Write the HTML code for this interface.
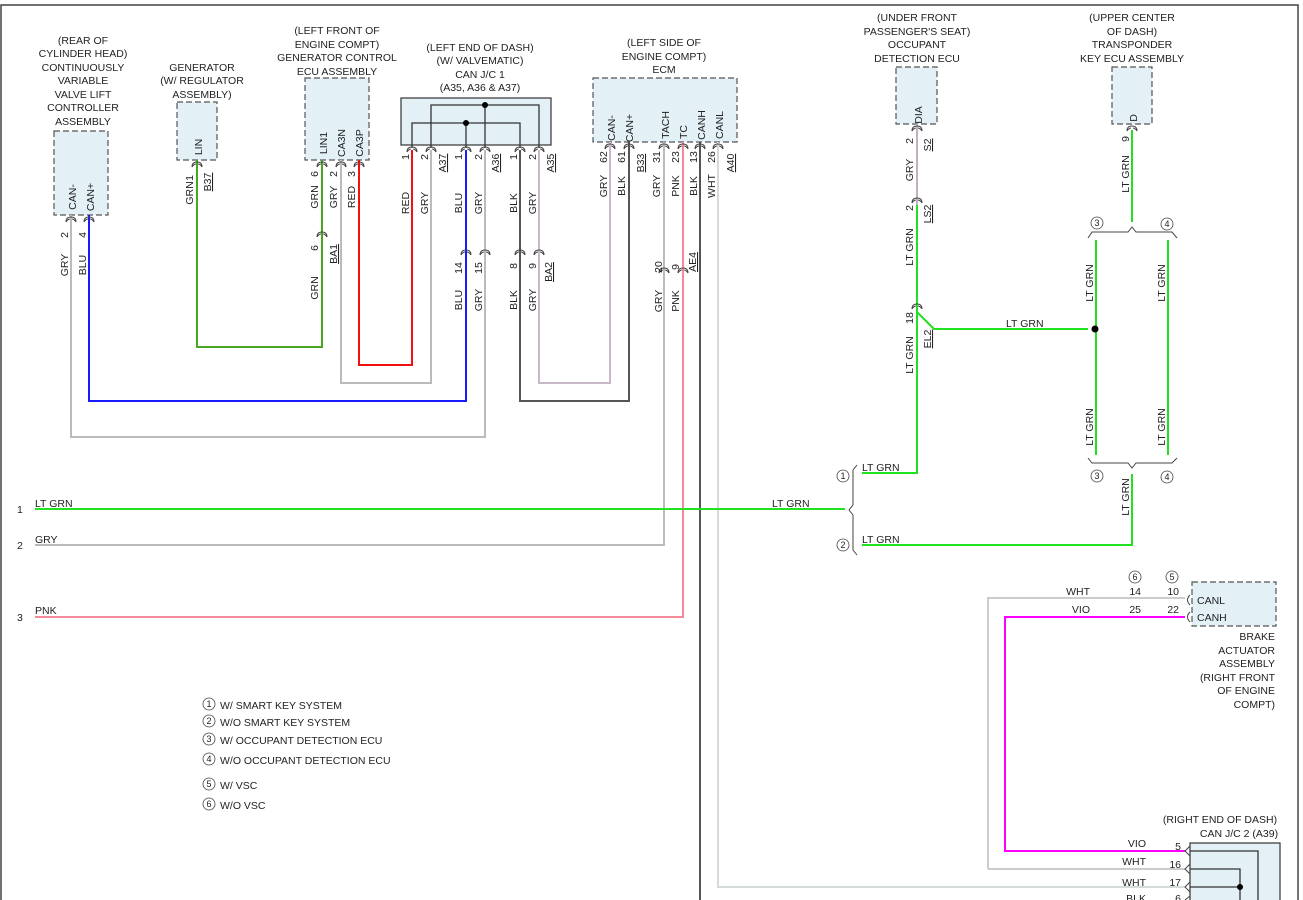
<!DOCTYPE html>
<html><head><meta charset="utf-8"><style>
html,body{margin:0;padding:0;background:#fff;}
svg{display:block;font-family:"Liberation Sans",sans-serif;font-size:10.5px;fill:#222;}
.b{fill:#e3f1f7;stroke:#555;stroke-width:1.2;stroke-dasharray:6,3;}
.w{fill:none;stroke-width:2;}
.c{fill:none;stroke:#444;stroke-width:1;}
</style></head><body>
<svg width="1303" height="900" viewBox="0 0 1303 900" xmlns="http://www.w3.org/2000/svg">
<defs>
<g id="cn"><path d="M-5,5 Q-5,0 0,0 Q5,0 5,5 M-5,5 Q-3,2 -1,2 M1,2 Q3,2 5,5" fill="none" stroke="#444" stroke-width="1"/></g>
</defs>
<rect x="1" y="5" width="1297" height="900" fill="none" stroke="#444" stroke-width="1.5"/>

<!-- Boxes -->
<rect class="b" x="54" y="131" width="54" height="84"/>
<rect class="b" x="177" y="102" width="40" height="58"/>
<rect class="b" x="305" y="78" width="64" height="82"/>
<rect x="401" y="98" width="150" height="47" fill="#e3f1f7" stroke="#333" stroke-width="1.2"/>
<rect class="b" x="593" y="78" width="144" height="64"/>
<rect class="b" x="896" y="67" width="41" height="57"/>
<rect class="b" x="1112" y="67" width="40" height="57"/>
<rect class="b" x="1192" y="582" width="84" height="44"/>
<rect x="1190" y="843" width="90" height="70" fill="#e3f1f7" stroke="#333" stroke-width="1.2"/>

<!-- J/C1 internal -->
<g fill="none" stroke="#333" stroke-width="1.3">
<path d="M412,148 V123 H520 V148 M466,123 V148 M431,148 V105 H539 V148 M485,105 V148"/>
<path d="M1190,851 H1258 V900 M1190,869 H1240 V900 M1190,887 H1240"/>
</g>
<circle cx="466" cy="123" r="3" fill="#000"/><circle cx="485" cy="105" r="3" fill="#000"/>
<circle cx="1240" cy="887" r="3" fill="#000"/>

<!-- wires -->
<path class="w" stroke="#bbb" d="M71,215 V437 H485 V150"/>
<path class="w" stroke="#1a1aff" d="M89,215 V401 H466 V150"/>
<path class="w" stroke="#4aa520" d="M197,160 V347 H322 V160"/>
<path class="w" stroke="#bbb" d="M341,160 V383 H431 V150"/>
<path class="w" stroke="#f21010" d="M359,160 V365 H412 V150"/>
<path class="w" stroke="#555" d="M520,150 V401 H629 V142"/>
<path class="w" stroke="#c9b8c9" d="M539,150 V383 H610 V142"/>
<path class="w" stroke="#bbb" d="M664,142 V545 H35"/>
<path class="w" stroke="#f58a9a" d="M683,142 V617 H35"/>
<path class="w" stroke="#555" d="M700,142 V900"/>
<path class="w" stroke="#d5dcd5" d="M718,142 V887 H1185"/>
<path class="w" stroke="#22e022" d="M35,509 H845"/>
<path class="w" stroke="#c0b0c0" d="M917,124 V205"/>
<path class="w" stroke="#22e022" d="M917,205 V473 H862 M917,312 L934,329 H1088"/>
<path class="w" stroke="#22e022" d="M1132,130 V222 M1096,240 V455 M1168,240 V455 M1132,474 V545 H862"/>
<path class="w" stroke="#ccc" d="M988,869 V598 H1185 M1185,869 H988"/>
<path class="w" stroke="#f0f" d="M1185,617 H1005 V851 H1185"/>
<circle cx="1095" cy="329" r="3.5" fill="#000"/>

<!-- brackets -->
<g class="c">
<path d="M1088,238 L1092,232 H1128 L1132,227 L1136,232 H1172 L1177,238"/>
<path d="M1088,458 L1092,463 H1128 L1132,468 L1136,463 H1172 L1177,458"/>
<path d="M857,465 L853,470 V505 L849,510 L853,515 V550 L857,555"/>
</g>

<!-- connector marks -->
<g>
<use href="#cn" x="71" y="217"/><use href="#cn" x="89" y="217"/><use href="#cn" x="197" y="162"/>
<use href="#cn" x="322" y="162"/><use href="#cn" x="341" y="162"/><use href="#cn" x="359" y="162"/>
<use href="#cn" x="322" y="232"/>
<use href="#cn" x="412" y="147"/><use href="#cn" x="431" y="147"/><use href="#cn" x="466" y="147"/><use href="#cn" x="485" y="147"/><use href="#cn" x="520" y="147"/><use href="#cn" x="539" y="147"/>
<use href="#cn" x="466" y="250"/><use href="#cn" x="485" y="250"/><use href="#cn" x="520" y="250"/><use href="#cn" x="539" y="250"/>
<use href="#cn" x="610" y="144"/><use href="#cn" x="629" y="144"/><use href="#cn" x="664" y="144"/><use href="#cn" x="683" y="144"/><use href="#cn" x="700" y="144"/><use href="#cn" x="718" y="144"/>
<use href="#cn" x="664" y="268"/><use href="#cn" x="683" y="268"/>
<use href="#cn" x="917" y="126"/><use href="#cn" x="917" y="198"/><use href="#cn" x="917" y="304"/><use href="#cn" x="1132" y="126"/>
</g>
<path class="c" d="M1190,595 Q1185,600 1190,605 M1190,612 Q1185,617 1190,622 M1190,846 L1185,851 L1190,856 M1190,864 L1185,869 L1190,874 M1190,882 L1185,887 L1190,892 M1190,896 L1185,900"/>

<!-- titles -->
<g text-anchor="middle">
<text x="83" y="44">(REAR OF</text><text x="83" y="57">CYLINDER HEAD)</text><text x="83" y="71">CONTINUOUSLY</text><text x="83" y="84">VARIABLE</text><text x="83" y="98">VALVE LIFT</text><text x="83" y="111">CONTROLLER</text><text x="83" y="125">ASSEMBLY</text>
<text x="202" y="71">GENERATOR</text><text x="202" y="84">(W/ REGULATOR</text><text x="202" y="98">ASSEMBLY)</text>
<text x="337" y="34">(LEFT FRONT OF</text><text x="337" y="48">ENGINE COMPT)</text><text x="337" y="61">GENERATOR CONTROL</text><text x="337" y="75">ECU ASSEMBLY</text>
<text x="480" y="51">(LEFT END OF DASH)</text><text x="480" y="64">(W/ VALVEMATIC)</text><text x="480" y="78">CAN J/C 1</text><text x="480" y="91">(A35, A36 &amp; A37)</text>
<text x="664" y="46">(LEFT SIDE OF</text><text x="664" y="60">ENGINE COMPT)</text><text x="664" y="73">ECM</text>
<text x="917" y="21">(UNDER FRONT</text><text x="917" y="35">PASSENGER'S SEAT)</text><text x="917" y="48">OCCUPANT</text><text x="917" y="62">DETECTION ECU</text>
<text x="1132" y="21">(UPPER CENTER</text><text x="1132" y="35">OF DASH)</text><text x="1132" y="48">TRANSPONDER</text><text x="1132" y="62">KEY ECU ASSEMBLY</text>
<text x="1220" y="823">(RIGHT END OF DASH)</text><text x="1239" y="837">CAN J/C 2 (A39)</text>
</g>
<g text-anchor="end">
<text x="1275" y="640">BRAKE</text><text x="1275" y="654">ACTUATOR</text><text x="1275" y="667">ASSEMBLY</text><text x="1275" y="681">(RIGHT FRONT</text><text x="1275" y="694">OF ENGINE</text><text x="1275" y="708">COMPT)</text>
<text x="1179" y="595">10</text><text x="1179" y="613">22</text><text x="1141" y="595">14</text><text x="1141" y="613">25</text>
<text x="1090" y="595">WHT</text><text x="1090" y="613">VIO</text>
<text x="1146" y="847">VIO</text><text x="1146" y="865">WHT</text><text x="1146" y="886">WHT</text><text x="1146" y="902">BLK</text>
<text x="1181" y="850">5</text><text x="1181" y="868">16</text><text x="1181" y="886">17</text><text x="1181" y="902">6</text>
</g>
<text x="1197" y="604">CANL</text><text x="1197" y="621">CANH</text>

<!-- horizontal labels -->
<text x="35" y="507">LT GRN</text><text x="772" y="507">LT GRN</text><text x="35" y="543">GRY</text><text x="35" y="614">PNK</text>
<text x="862" y="471">LT GRN</text><text x="862" y="543">LT GRN</text><text x="1006" y="327">LT GRN</text>
<text x="17" y="513">1</text><text x="17" y="549">2</text><text x="17" y="621">3</text>

<!-- circled numbers -->
<g fill="none" stroke="#444" stroke-width="0.8">
<circle cx="843" cy="476" r="6"/><circle cx="843" cy="545" r="6"/><circle cx="1097" cy="223" r="6"/><circle cx="1167" cy="224" r="6"/>
<circle cx="1097" cy="476" r="6"/><circle cx="1167" cy="477" r="6"/><circle cx="1135" cy="577" r="6"/><circle cx="1172" cy="577" r="6"/>
<circle cx="209" cy="704" r="6"/><circle cx="209" cy="721" r="6"/><circle cx="209" cy="739" r="6"/><circle cx="209" cy="759" r="6"/><circle cx="209" cy="784" r="6"/><circle cx="209" cy="804" r="6"/>
</g>
<g text-anchor="middle" font-size="9">
<text x="843" y="479">1</text><text x="843" y="548">2</text><text x="1097" y="226">3</text><text x="1167" y="227">4</text>
<text x="1097" y="479">3</text><text x="1167" y="480">4</text><text x="1135" y="580">6</text><text x="1172" y="580">5</text>
<text x="209" y="707">1</text><text x="209" y="724">2</text><text x="209" y="742">3</text><text x="209" y="762">4</text><text x="209" y="787">5</text><text x="209" y="807">6</text>
</g>
<text x="220" y="709">W/ SMART KEY SYSTEM</text><text x="220" y="726">W/O SMART KEY SYSTEM</text><text x="220" y="744">W/ OCCUPANT DETECTION ECU</text><text x="220" y="764">W/O OCCUPANT DETECTION ECU</text><text x="220" y="789">W/ VSC</text><text x="220" y="809">W/O VSC</text>

<!-- vertical labels -->
<g text-anchor="middle">
<text transform="translate(68,265) rotate(-90)">GRY</text><text transform="translate(68,235) rotate(-90)">2</text>
<text transform="translate(86,265) rotate(-90)">BLU</text><text transform="translate(86,235) rotate(-90)">4</text>
<text transform="translate(76,197) rotate(-90)">CAN-</text><text transform="translate(94,197) rotate(-90)">CAN+</text>
<text transform="translate(202,147) rotate(-90)">LIN</text><text transform="translate(193,193) rotate(-90)">GRN</text><text transform="translate(193,178) rotate(-90)">1</text>
<text transform="translate(211,182) rotate(-90)" text-decoration="underline">B37</text>
<text transform="translate(327,143) rotate(-90)">LIN1</text><text transform="translate(345,143) rotate(-90)">CA3N</text><text transform="translate(363,143) rotate(-90)">CA3P</text>
<text transform="translate(318,197) rotate(-90)">GRN</text><text transform="translate(318,174) rotate(-90)">6</text>
<text transform="translate(337,197) rotate(-90)">GRY</text><text transform="translate(337,174) rotate(-90)">2</text>
<text transform="translate(355,197) rotate(-90)">RED</text><text transform="translate(355,174) rotate(-90)">3</text>
<text transform="translate(318,248) rotate(-90)">6</text><text transform="translate(337,254) rotate(-90)" text-decoration="underline">BA1</text><text transform="translate(318,288) rotate(-90)">GRN</text>
<text transform="translate(409,157) rotate(-90)">1</text><text transform="translate(428,157) rotate(-90)">2</text><text transform="translate(446,163) rotate(-90)" text-decoration="underline">A37</text>
<text transform="translate(462,157) rotate(-90)">1</text><text transform="translate(482,157) rotate(-90)">2</text><text transform="translate(499,163) rotate(-90)" text-decoration="underline">A36</text>
<text transform="translate(517,157) rotate(-90)">1</text><text transform="translate(536,157) rotate(-90)">2</text><text transform="translate(554,163) rotate(-90)" text-decoration="underline">A35</text>
<text transform="translate(409,203) rotate(-90)">RED</text><text transform="translate(428,203) rotate(-90)">GRY</text><text transform="translate(462,203) rotate(-90)">BLU</text><text transform="translate(482,203) rotate(-90)">GRY</text><text transform="translate(517,203) rotate(-90)">BLK</text><text transform="translate(536,203) rotate(-90)">GRY</text>
<text transform="translate(462,268) rotate(-90)">14</text><text transform="translate(482,268) rotate(-90)">15</text><text transform="translate(517,266) rotate(-90)">8</text><text transform="translate(536,266) rotate(-90)">9</text><text transform="translate(552,272) rotate(-90)" text-decoration="underline">BA2</text>
<text transform="translate(462,300) rotate(-90)">BLU</text><text transform="translate(482,300) rotate(-90)">GRY</text><text transform="translate(517,300) rotate(-90)">BLK</text><text transform="translate(536,300) rotate(-90)">GRY</text>
<text transform="translate(615,128) rotate(-90)">CAN-</text><text transform="translate(633,128) rotate(-90)">CAN+</text><text transform="translate(669,125) rotate(-90)">TACH</text><text transform="translate(687,132) rotate(-90)">TC</text><text transform="translate(705,125) rotate(-90)">CANH</text><text transform="translate(723,125) rotate(-90)">CANL</text>
<text transform="translate(607,157) rotate(-90)">62</text><text transform="translate(625,157) rotate(-90)">61</text><text transform="translate(644,163) rotate(-90)" text-decoration="underline">B33</text>
<text transform="translate(660,157) rotate(-90)">31</text><text transform="translate(679,157) rotate(-90)">23</text><text transform="translate(697,157) rotate(-90)">13</text><text transform="translate(715,157) rotate(-90)">26</text><text transform="translate(734,163) rotate(-90)" text-decoration="underline">A40</text>
<text transform="translate(607,186) rotate(-90)">GRY</text><text transform="translate(625,186) rotate(-90)">BLK</text><text transform="translate(660,186) rotate(-90)">GRY</text><text transform="translate(679,186) rotate(-90)">PNK</text><text transform="translate(697,186) rotate(-90)">BLK</text><text transform="translate(715,186) rotate(-90)">WHT</text>
<text transform="translate(662,267) rotate(-90)">20</text><text transform="translate(679,267) rotate(-90)">9</text><text transform="translate(696,262) rotate(-90)" text-decoration="underline">AE4</text>
<text transform="translate(662,301) rotate(-90)">GRY</text><text transform="translate(679,301) rotate(-90)">PNK</text>
<text transform="translate(922,115) rotate(-90)">DIA</text><text transform="translate(913,141) rotate(-90)">2</text><text transform="translate(931,145) rotate(-90)" text-decoration="underline">S2</text>
<text transform="translate(913,170) rotate(-90)">GRY</text><text transform="translate(913,208) rotate(-90)">2</text><text transform="translate(931,214) rotate(-90)" text-decoration="underline">LS2</text>
<text transform="translate(913,247) rotate(-90)">LT GRN</text><text transform="translate(913,318) rotate(-90)">18</text><text transform="translate(931,339) rotate(-90)" text-decoration="underline">EL2</text><text transform="translate(913,355) rotate(-90)">LT GRN</text>
<text transform="translate(1137,118) rotate(-90)">D</text><text transform="translate(1129,139) rotate(-90)">9</text><text transform="translate(1129,174) rotate(-90)">LT GRN</text>
<text transform="translate(1093,283) rotate(-90)">LT GRN</text><text transform="translate(1165,283) rotate(-90)">LT GRN</text>
<text transform="translate(1093,427) rotate(-90)">LT GRN</text><text transform="translate(1165,427) rotate(-90)">LT GRN</text>
<text transform="translate(1129,497) rotate(-90)">LT GRN</text>
</g>
</svg>
</body></html>
